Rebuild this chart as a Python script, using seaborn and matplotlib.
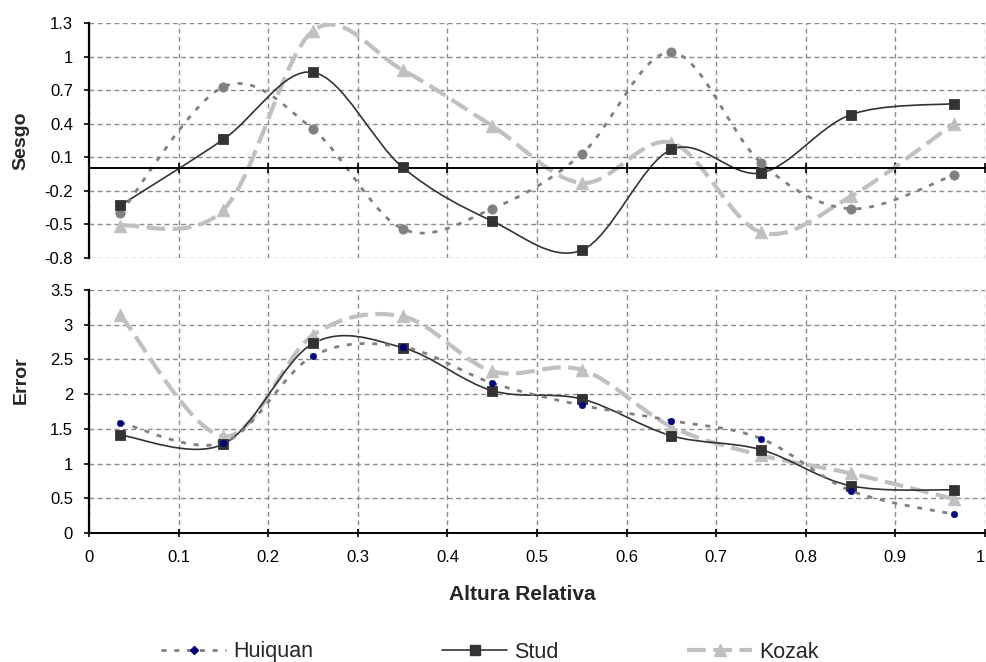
import numpy as np
import pandas as pd
import matplotlib
matplotlib.use("Agg")
import matplotlib.pyplot as plt
import seaborn as sns
from matplotlib.path import Path
from matplotlib.patches import PathPatch
from matplotlib.lines import Line2D
from matplotlib.ticker import FuncFormatter

# =====================================
# Data
# =====================================
altura = [0.035, 0.15, 0.25, 0.35, 0.45, 0.55, 0.65, 0.75, 0.85, 0.965]

sesgo_huiquan = [-0.40, 0.73, 0.35, -0.54, -0.36, 0.13, 1.04, 0.05, -0.36, -0.06]
sesgo_stud = [-0.33, 0.26, 0.86, 0.01, -0.47, -0.73, 0.17, -0.04, 0.48, 0.58]
sesgo_kozak = [-0.51, -0.37, 1.23, 0.88, 0.38, -0.13, 0.23, -0.57, -0.25, 0.40]

error_huiquan = [1.59, 1.30, 2.55, 2.68, 2.16, 1.84, 1.62, 1.36, 0.61, 0.27]
error_stud = [1.41, 1.28, 2.73, 2.67, 2.05, 1.93, 1.40, 1.20, 0.68, 0.62]
error_kozak = [3.14, 1.39, 2.85, 3.12, 2.33, 2.35, 1.53, 1.12, 0.86, 0.49]

series_names = ["Huiquan", "Stud", "Kozak"]

# =====================================
# Styles
# =====================================
sns.set_style("white")
plt.rcParams["font.family"] = ["Liberation Sans", "DejaVu Sans"]

styles = {
    "Huiquan": dict(color="#808080", lw=2.0, ls=(0, (1.8, 2.8))),
    "Stud": dict(color="#333333", lw=1.2, ls="-"),
    "Kozak": dict(color="#c0c0c0", lw=3.0, ls=(0, (4.5, 1.8))),
}


def smooth_patch(x, y, **kw):
    # Excel-like smoothed line: cubic bezier through the points
    x = np.asarray(x, float)
    y = np.asarray(y, float)
    n = len(x)
    verts = [(x[0], y[0])]
    codes = [Path.MOVETO]
    for i in range(n - 1):
        a = max(i - 1, 0)
        b = min(i + 2, n - 1)
        c1 = (x[i] + (x[i + 1] - x[a]) / 6, y[i] + (y[i + 1] - y[a]) / 6)
        c2 = (x[i + 1] - (x[b] - x[i]) / 6, y[i + 1] - (y[b] - y[i]) / 6)
        verts += [c1, c2, (x[i + 1], y[i + 1])]
        codes += [Path.CURVE4] * 3
    return PathPatch(Path(verts, codes), fill=False, edgecolor=kw["color"],
                     linewidth=kw["lw"], linestyle=kw["ls"], capstyle="butt")


def fmt(v, pos):
    return "{:g}".format(round(v, 2))


fig = plt.figure(figsize=(9.87, 6.62), dpi=100)
ax1 = fig.add_axes([89 / 987, 1 - 258 / 662, 896 / 987, 235 / 662])
ax2 = fig.add_axes([89 / 987, 1 - 533 / 662, 896 / 987, 243 / 662])

grid_kw = dict(color="#8c8c8c", linestyle=(0, (3.5, 2.5)), linewidth=1.0)

panels = [
    (ax1, [sesgo_huiquan, sesgo_stud, sesgo_kozak], (-0.8, 1.3), np.arange(-0.8, 1.31, 0.3)),
    (ax2, [error_huiquan, error_stud, error_kozak], (0, 3.5), np.arange(0, 3.51, 0.5)),
]

for k, (ax, vals, ylim, yticks) in enumerate(panels):
    ax.set_xlim(0, 1)
    ax.set_ylim(*ylim)
    ax.set_xticks(np.arange(0, 1.01, 0.1))
    ax.set_yticks(yticks)
    ax.yaxis.set_major_formatter(FuncFormatter(fmt))
    ax.xaxis.set_major_formatter(FuncFormatter(fmt))
    ax.grid(True, **grid_kw)
    ax.set_axisbelow(True)
    for side in ["top", "right"]:
        ax.spines[side].set_visible(False)
    ax.spines["left"].set_color("black")
    ax.spines["left"].set_linewidth(1.6)
    ax.spines["bottom"].set_color("black")
    ax.spines["bottom"].set_linewidth(1.4)
    ax.tick_params(axis="y", direction="out", length=3.5, width=1.2,
                   labelsize=12, pad=8, left=True, colors="black")
    ax.tick_params(axis="x", direction="inout", length=6, width=1.2,
                   labelsize=12, pad=9, bottom=True, colors="black")

    # lines
    for name, v in zip(series_names[::-1], vals[::-1]):
        ax.add_patch(smooth_patch(altura, v, **styles[name]))

    # markers
    sns.scatterplot(x=altura, y=vals[2], ax=ax, marker="^", s=80,
                    color="#c0c0c0", edgecolor="#c0c0c0", zorder=4)
    sns.scatterplot(x=altura, y=vals[1], ax=ax, marker="s", s=55,
                    color="#333333", edgecolor="#333333", zorder=5)
    if k == 0:
        sns.scatterplot(x=altura, y=vals[0], ax=ax, marker="o", s=45,
                        color="#808080", edgecolor="#808080", zorder=4.5)
    else:
        sns.scatterplot(x=altura, y=vals[0], ax=ax, marker="o", s=22,
                        color="#000080", edgecolor="#000080", zorder=6)

# top panel: x axis on the zero line, no labels
ax1.spines["bottom"].set_position(("data", 0))
ax1.tick_params(axis="x", labelbottom=False, length=7)
ax1.set_xlabel("")
ax1.set_ylabel("Sesgo", fontsize=14, fontweight="bold")
ax1.yaxis.set_label_coords(-0.066, 0.5)

ax2.set_ylabel("Error", fontsize=14, fontweight="bold")
ax2.yaxis.set_label_coords(-0.066, 0.63)
ax2.set_xlabel("")

# keep the "1" at the right edge inside the figure
fig.canvas.draw()
ax2.get_xticklabels()[-1].set_horizontalalignment("right")

fig.text(522 / 987, 1 - 595 / 662, "Altura Relativa", fontsize=15,
         fontweight="bold", ha="center", va="center")

# legend
handles = [
    Line2D([], [], color="#808080", lw=2.0, ls=(0, (1.8, 2.8)), marker="D",
           markersize=4.5, markerfacecolor="#000080", markeredgecolor="#000080"),
    Line2D([], [], color="#333333", lw=1.2, ls="-", marker="s",
           markersize=6.5, markerfacecolor="#333333", markeredgecolor="#333333"),
    Line2D([], [], color="#c0c0c0", lw=3.0, ls=(0, (4.5, 1.8)), marker="^",
           markersize=8, markerfacecolor="#c0c0c0", markeredgecolor="#c0c0c0"),
]
fig.legend(handles, series_names, loc="center", bbox_to_anchor=(490 / 987, 1 - 652 / 662),
           ncol=3, frameon=False, fontsize=15.5, handlelength=3.0,
           handletextpad=0.33, columnspacing=6.0, borderpad=0, borderaxespad=0)

fig.savefig("out.png", dpi=100)
